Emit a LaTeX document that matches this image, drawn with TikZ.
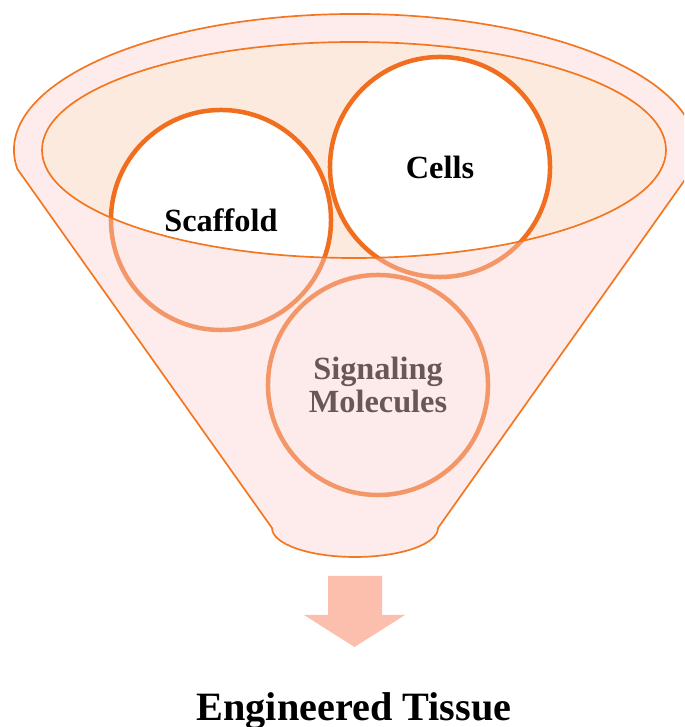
\documentclass[tikz,border=0pt]{standalone}
\usepackage{fontspec}
\setmainfont{Liberation Serif}
\usetikzlibrary{positioning}
\definecolor{funnelorange}{RGB}{243,118,33}
\definecolor{ringorange}{RGB}{240,110,30}
\definecolor{rimpeach}{RGB}{253,234,222}
\definecolor{veilpink}{RGB}{250,209,207}
\definecolor{arrowsalmon}{RGB}{253,191,173}
\tikzset{
  ring/.style={
    circle,
    draw=ringorange,
    line width=3.2pt,
    fill=white,
    minimum size=5.5cm,
    inner sep=0pt,
    align=center,
    font=\bfseries\fontsize{23}{24}\selectfont
  },
  veil/.style={
    fill=veilpink,
    fill opacity=0.42,
    even odd rule
  },
  rim/.style={
    draw=funnelorange,
    line width=1.2pt
  },
  title/.style={
    anchor=base,
    font=\bfseries\fontsize{28.6}{30}\selectfont
  }
}

\begin{document}
\begin{tikzpicture}[x=0.025cm,y=0.025cm]
\useasboundingbox (0,0) rectangle (684,727);
\clip (0,0) rectangle (684,727);
% opening of the funnel
\fill[rimpeach] (354,577) ellipse [x radius=312, y radius=108];
% ingredients
\node[ring] (scaffold) at (221,507) {Scaffold};
\node[ring] (cells) at (440,560) {Cells};
\node[ring] (signal) at (378,342) {Signaling\\Molecules};
% front wall of the funnel
\fill[veil] (17.3,558.1) arc[start angle=188, end angle=-8, x radius=341, y radius=136]
  -- (438,199) arc[start angle=0, end angle=-180, x radius=83, y radius=29] -- cycle
  (354,577) ellipse [x radius=312, y radius=108];
\draw[rim] (17.3,558.1) arc[start angle=188, end angle=-8, x radius=341, y radius=136]
  -- (438,199) arc[start angle=0, end angle=-180, x radius=83, y radius=29] -- cycle;
\draw[rim] (354,577) ellipse [x radius=312, y radius=108];
% result
\fill[arrowsalmon] (328,151) -- (382,151) -- (382,112) -- (405,112) -- (354.5,80)
  -- (304,112) -- (328,112) -- cycle;
\node[title] (tissue) at (354,7) {Engineered Tissue};
\end{tikzpicture}
\end{document}
